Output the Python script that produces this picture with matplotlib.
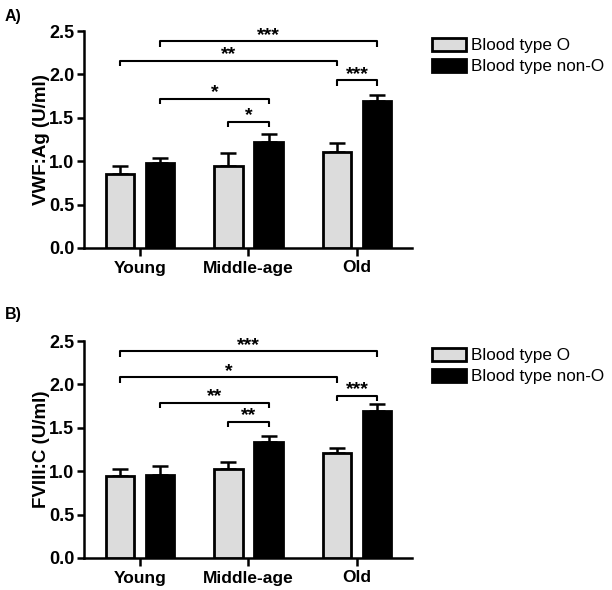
import matplotlib
matplotlib.use("Agg")
import matplotlib.pyplot as plt
import numpy as np

plt.rcParams['font.family'] = ['Liberation Sans', 'DejaVu Sans']

groups = ["Young", "Middle-age", "Old"]
series = ["Blood type O", "Blood type non-O"]

# Panel A: VWF:Ag
vwf_O = [0.85, 0.95, 1.11]
vwf_O_err = [0.10, 0.15, 0.10]
vwf_N = [0.98, 1.22, 1.69]
vwf_N_err = [0.06, 0.09, 0.07]
# brackets: (group_i, series_i, group_j, series_j, height, label)
vwf_brackets = [
    (0, 1, 2, 1, 2.38, "***"),
    (0, 0, 2, 0, 2.155, "**"),
    (2, 0, 2, 1, 1.93, "***"),
    (0, 1, 1, 1, 1.72, "*"),
    (1, 0, 1, 1, 1.455, "*"),
]

# Panel B: FVIII:C
f8_O = [0.94, 1.03, 1.21]
f8_O_err = [0.08, 0.08, 0.06]
f8_N = [0.96, 1.34, 1.69]
f8_N_err = [0.10, 0.07, 0.08]
f8_brackets = [
    (0, 0, 2, 1, 2.38, "***"),
    (0, 0, 2, 0, 2.08, "*"),
    (2, 0, 2, 1, 1.87, "***"),
    (0, 1, 1, 1, 1.79, "**"),
    (1, 0, 1, 1, 1.57, "**"),
]

fig = plt.figure(figsize=(6.12, 5.90), dpi=100)

L, R = 84 / 612, 412 / 612
axA = fig.add_axes([L, 1 - 248 / 590, R - L, (248 - 31) / 590])
axB = fig.add_axes([L, 1 - 558 / 590, R - L, (558 - 341) / 590])

width = 0.26
off = 0.185
x = np.arange(len(groups))
colors = ["#DCDCDC", "#000000"]

def draw(ax, vO, eO, vN, eN, brackets, ylabel):
    pos = [x - off, x + off]
    vals = [vO, vN]
    errs = [eO, eN]
    for k in range(2):
        ax.errorbar(pos[k], vals[k], yerr=[np.zeros(len(groups)), errs[k]],
                    fmt='none', ecolor='black', elinewidth=1.8, capsize=6,
                    capthick=1.8, zorder=2)
        ax.bar(pos[k], vals[k], width, color=colors[k], edgecolor='black',
               linewidth=2.0, zorder=3, label=series[k])
    drop = 0.06
    for gi, si, gj, sj, h, lab in brackets:
        xa = pos[si][gi]
        xb = pos[sj][gj]
        ax.plot([xa, xa, xb, xb], [h - drop, h, h, h - drop], color='black',
                lw=1.5, zorder=4, solid_capstyle='butt')
        ax.text((xa + xb) / 2, h - 0.03, lab, ha='center', va='bottom',
                fontsize=14, fontweight='bold')
    ax.set_xlim(-0.516, 2.507)
    ax.set_ylim(0, 2.5)
    ax.set_yticks([0, 0.5, 1.0, 1.5, 2.0, 2.5])
    ax.set_yticklabels(["0.0", "0.5", "1.0", "1.5", "2.0", "2.5"])
    ax.set_xticks(x)
    ax.set_xticklabels(groups)
    for lbl in ax.get_xticklabels():
        lbl.set_fontweight('bold')
        lbl.set_fontsize(12.5)
    for lbl in ax.get_yticklabels():
        lbl.set_fontweight('bold')
        lbl.set_fontsize(13)
    ax.tick_params(axis='both', direction='out', width=1.8, length=5, pad=2)
    ax.tick_params(axis='x', length=6, pad=3)
    for s in ['top', 'right']:
        ax.spines[s].set_visible(False)
    for s in ['left', 'bottom']:
        ax.spines[s].set_linewidth(1.8)
    ax.set_ylabel(ylabel, fontsize=13.5, fontweight='bold', labelpad=-0.5)
    return ax

draw(axA, vwf_O, vwf_O_err, vwf_N, vwf_N_err, vwf_brackets, "VWF:Ag (U/ml)")
draw(axB, f8_O, f8_O_err, f8_N, f8_N_err, f8_brackets, "FVIII:C (U/ml)")

fig.text(5 / 612, 1 - 21 / 590, "A)", fontsize=11.5, fontweight='bold',
         ha='left', va='baseline')
fig.text(5 / 612, 1 - 319 / 590, "B)", fontsize=11.5, fontweight='bold',
         ha='left', va='baseline')

for ax, ytop in [(axA, 38), (axB, 348)]:
    leg = ax.legend(loc='upper left', bbox_to_anchor=(432 / 612, 1 - ytop / 590),
                    bbox_transform=fig.transFigure, frameon=False, fontsize=12.3,
                    handlelength=2.0, handleheight=0.8, handletextpad=0.3,
                    labelspacing=0.3, borderpad=0, borderaxespad=0)

fig.savefig("out.png", dpi=100)
